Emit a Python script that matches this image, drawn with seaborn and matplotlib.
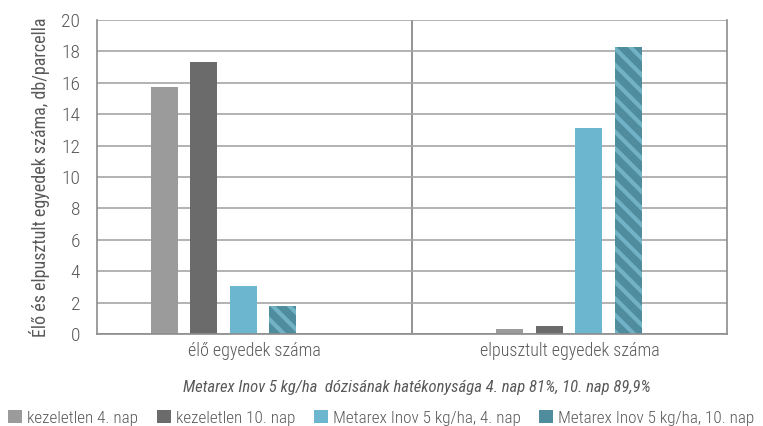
import matplotlib
matplotlib.use("Agg")
import matplotlib.pyplot as plt
import seaborn as sns
import pandas as pd

# chart data
categories = ["élő egyedek száma", "elpusztult egyedek száma"]
series = ["kezeletlen 4. nap", "kezeletlen 10. nap",
          "Metarex Inov 5 kg/ha, 4. nap", "Metarex Inov 5 kg/ha, 10. nap"]
values_kez4 = [15.75, 0.3]
values_kez10 = [17.3, 0.5]
values_met4 = [3.05, 13.1]
values_met10 = [1.8, 18.3]
y_ticks = list(range(0, 21, 2))

ylabel = "Élő és elpusztult egyedek száma, db/parcella"
note = "Metarex Inov 5 kg/ha  dózisának hatékonysága 4. nap 81%, 10. nap 89,9%"

colors = ["#9b9b9b", "#6b6b6b", "#6db6cf", "#4f8c9d"]
txt = "#595959"
grid = "#a6a6a6"

rows = []
for s, vals in zip(series, [values_kez4, values_kez10, values_met4, values_met10]):
    for c, v in zip(categories, vals):
        rows.append({"cat": c, "series": s, "value": v})
df = pd.DataFrame(rows)

sns.set_style("white")
plt.rcParams["font.family"] = ["Roboto Condensed", "Archivo Narrow",
                               "Liberation Sans", "DejaVu Sans"]
plt.rcParams["font.weight"] = "light"
plt.rcParams["hatch.linewidth"] = 3.0

fig = plt.figure(figsize=(7.63, 4.26), dpi=100)
ax = fig.add_axes([0.127, 0.216, 0.826, 0.737])

sns.barplot(data=df, x="cat", y="value", hue="series", order=categories,
            hue_order=series, palette=colors, width=0.458, gap=0.316,
            saturation=1, ax=ax, legend=True, linewidth=0)

# striped last series
n_cat = len(categories)
for p in ax.patches[3 * n_cat:4 * n_cat]:
    p.set_hatch("\\\\")
    p.set_edgecolor("#72b2c6")
    p.set_linewidth(0)

# layout like the original: bar groups are not centred in their slots
left, sep, right = -0.367, 0.545, 1.458
ax.set_xlim(left, right)
ax.set_ylim(0, 20)
ax.set_yticks(y_ticks)
ax.yaxis.grid(True, color=grid, linewidth=1.2)
ax.set_axisbelow(True)
ax.axvline(sep, color="#808080", linewidth=1.2, zorder=0.5)

ax.set_xticks([(left + sep) / 2, (sep + right) / 2])
ax.set_xticklabels(categories)
ax.tick_params(axis="x", length=0, pad=6, labelsize=13, colors=txt)
ax.tick_params(axis="y", length=8, width=1, color=grid, pad=4, labelsize=14,
               colors=txt)
ax.set_xlabel(note, fontsize=12, style="italic", color=txt)
ax.xaxis.set_label_coords(0.508, -0.145)
ax.set_ylabel(ylabel, fontsize=13, color=txt, labelpad=8)

for side in ["left", "right", "bottom"]:
    ax.spines[side].set_visible(True)
    ax.spines[side].set_color("#8c8c8c")
    ax.spines[side].set_linewidth(1.2)
ax.spines["top"].set_visible(False)

handles, labels = ax.get_legend_handles_labels()
ax.get_legend().remove()
leg = fig.legend(handles, labels, loc="center", ncol=4,
                 bbox_to_anchor=(0.5, 1 - 418 / 426), frameon=False,
                 fontsize=12.3, handlelength=0.8, handleheight=0.8,
                 handletextpad=0.3, columnspacing=1.1, borderpad=0.2)
for t in leg.get_texts():
    t.set_color(txt)

fig.savefig("out.png", dpi=100)
